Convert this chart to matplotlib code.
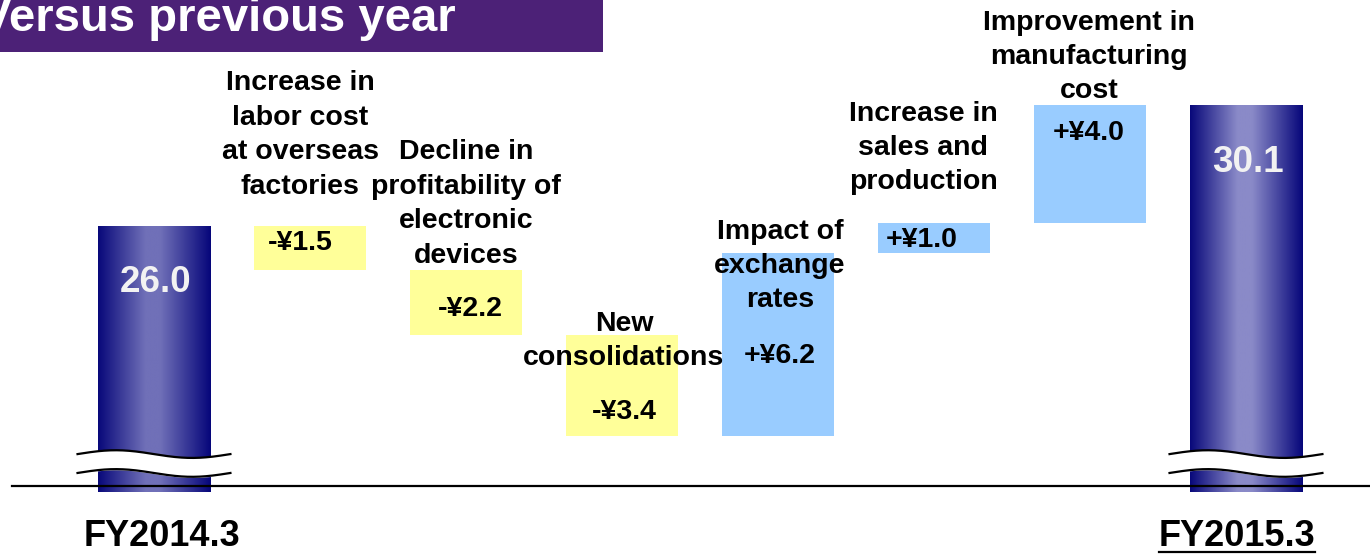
import numpy as np
import matplotlib.pyplot as plt
from matplotlib.colors import LinearSegmentedColormap
from matplotlib.lines import Line2D
from matplotlib.patches import Rectangle

plt.rcParams['font.family'] = ['Liberation Sans', 'DejaVu Sans']
plt.rcParams['font.weight'] = 'bold'

# %%
# Data: waterfall of operating income, FY2014.3 -> FY2015.3
start_value = 26.0
changes = [-1.5, -2.2, -3.4, 6.2, 1.0, 4.0]
end_value = 30.1
change_labels = ['Increase in\nlabor cost\nat overseas\nfactories',
                 'Decline in\nprofitability of\nelectronic\ndevices',
                 'New\nconsolidations',
                 'Impact of\nexchange\nrates',
                 'Increase in\nsales and\nproduction',
                 'Improvement in\nmanufacturing\ncost']
change_texts = ['-¥1.5', '-¥2.2', '-¥3.4', '+¥6.2', '+¥1.0', '+¥4.0']
year_labels = ['FY2014.3', 'FY2015.3']
title = 'Versus previous year'

# %%
# Figure, axes fill the whole canvas
W, H = 1370, 555
fig = plt.figure(figsize=(W / 100, H / 100), dpi=100)
ax = fig.add_axes([0, 0, 1, 1])
ax.set_xlim(-0.987, 7.795)
ax.set_ylim(14.85, 33.66)
ax.axis('off')

def fx(px):
    return px / W

def fy(py):
    return 1 - py / H

base = 17.0
width = 0.72
yellow = '#FFFF99'
blue = '#99CCFF'

# gradient bars for the totals
def grad_bar(x, top, light):
    cmap = LinearSegmentedColormap.from_list('g', [(0, '#08087a'), (0.42, light),
                                                   (0.55, light), (1, '#06067a')])
    g = np.linspace(0, 1, 256).reshape(1, -1)
    ax.imshow(g, extent=[x - width / 2, x + width / 2, base, top],
              aspect='auto', cmap=cmap, zorder=2)

grad_bar(0, start_value, '#7070b8')
grad_bar(7, end_value, '#8a8ac8')

# floating bars
level = start_value
for i, d in enumerate(changes):
    bottom = min(level, level + d)
    ax.bar(i + 1, abs(d), bottom=bottom, width=width,
           color=yellow if d < 0 else blue, zorder=2)
    level += d

# break marks on the total bars
t = np.linspace(0, 1, 200)
for x in [0, 7]:
    xs = x + (t - 0.5) * 0.98
    upper = 18.27 + 0.13 * np.sin(2 * np.pi * t)
    lower = upper - 0.64
    ax.fill_between(xs, lower, upper, color='white', zorder=3)
    ax.plot(xs, upper, color='black', lw=1.6, zorder=4)
    ax.plot(xs, lower, color='black', lw=1.6, zorder=4)

# baseline
fig.add_artist(Line2D([fx(12), fx(1370)], [fy(486), fy(486)], color='black', lw=1.6))

# %%
# Text
fs = 20.5
label_pos = [(300, 135), (466, 204), (624, 341), (780, 266), (923, 148), (1089, 57)]
for lab, (px, py) in zip(change_labels, label_pos):
    fig.text(fx(px), fy(py), lab, ha='center', va='center', fontsize=fs,
             linespacing=1.42, zorder=5)

value_pos = [(300, 243), (470, 309), (624, 412), (780, 356), (922, 240), (1089, 133)]
for txt, (px, py) in zip(change_texts, value_pos):
    fig.text(fx(px), fy(py), txt, ha='center', va='center', fontsize=fs, zorder=5)

fig.text(fx(156), fy(282), f'{start_value:.1f}', ha='center', va='center',
         fontsize=26.5, color='#f2f2f2', zorder=5)
fig.text(fx(1248), fy(163), f'{end_value:.1f}', ha='center', va='center',
         fontsize=26.5, color='#f2f2f2', zorder=5)

fig.text(fx(162), fy(537), year_labels[0], ha='center', va='center', fontsize=26)
t2 = fig.text(fx(1237), fy(537), year_labels[1], ha='center', va='center', fontsize=26)
fig.canvas.draw()
bb = t2.get_window_extent()
fig.add_artist(Line2D([bb.x0 / W, bb.x1 / W], [fy(552), fy(552)], color='black', lw=1.6))

# title box, cut off at the left like the slide
fig.add_artist(Rectangle((0, fy(52)), fx(603), 52 / H, color='#4c2177', lw=0))
fig.text(fx(456), fy(31), title, ha='right', va='baseline', fontsize=34,
         color='white')

fig.savefig('out.png', dpi=100)
